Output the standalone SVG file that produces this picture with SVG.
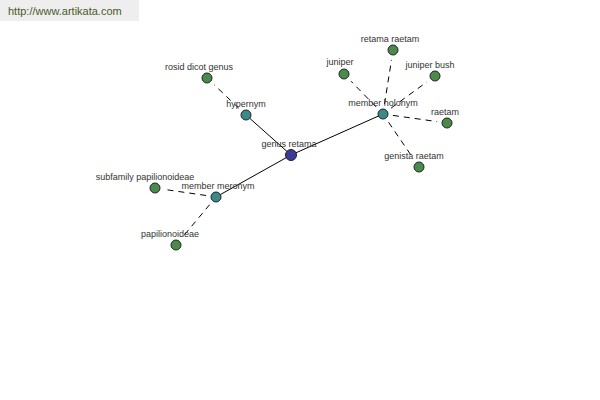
<svg xmlns="http://www.w3.org/2000/svg" width="600" height="400" viewBox="0 0 600 400">
<style>
text{font-family:"Liberation Sans",Arial,sans-serif;font-size:9px;fill:#333;text-anchor:middle}
.n{stroke:#222;stroke-width:1}
.g{fill:#4a8a4a}
.t{fill:#3a8a8a}
.b{fill:#3c3c94}
.s{stroke:#000;stroke-width:1;fill:none}
.d{stroke:#000;stroke-width:1;fill:none;stroke-dasharray:6,5}
</style>
<rect x="0" y="0" width="139" height="21" fill="#eeeeee"/>
<text x="8" y="15" style="text-anchor:start;font-size:11px;fill:#4a5a2a">http://www.artikata.com</text>
<g id="edges">
<line class="s" x1="291" y1="155" x2="246" y2="115"/>
<line class="s" x1="291" y1="155" x2="383" y2="114"/>
<line class="s" x1="291" y1="155" x2="216" y2="197"/>
<line class="d" x1="238.7" y1="108.1" x2="214.3" y2="84.9"/>
<line class="d" x1="384.5" y1="104.1" x2="391.5" y2="59.9"/>
<line class="d" x1="376" y1="106.8" x2="351" y2="81.2"/>
<line class="d" x1="391.1" y1="108.1" x2="426.9" y2="81.9"/>
<line class="d" x1="392.9" y1="115.4" x2="437.1" y2="121.6"/>
<line class="d" x1="388.6" y1="122.3" x2="413.4" y2="158.7"/>
<line class="d" x1="206.1" y1="195.5" x2="164.9" y2="189.5"/>
<line class="d" x1="209.6" y1="204.7" x2="182.4" y2="237.3"/>
</g>
<g id="genus-retama"><circle class="n b" cx="291" cy="155" r="5.5"/><text x="289" y="147">genus retama</text></g>
<g id="hypernym"><circle class="n t" cx="246" cy="115" r="5"/><text x="246" y="107">hypernym</text></g>
<g id="rosid-dicot-genus"><circle class="n g" cx="207" cy="78" r="5"/><text x="199" y="70">rosid dicot genus</text></g>
<g id="member-holonym"><circle class="n t" cx="383" cy="114" r="5"/><text x="383" y="106">member holonym</text></g>
<g id="retama-raetam"><circle class="n g" cx="393" cy="50" r="5"/><text x="390" y="42">retama raetam</text></g>
<g id="juniper"><circle class="n g" cx="344" cy="74" r="5"/><text x="340" y="65">juniper</text></g>
<g id="juniper-bush"><circle class="n g" cx="435" cy="76" r="5"/><text x="430" y="68">juniper bush</text></g>
<g id="raetam"><circle class="n g" cx="447" cy="123" r="5"/><text x="445" y="115">raetam</text></g>
<g id="genista-raetam"><circle class="n g" cx="419" cy="167" r="5"/><text x="414" y="159">genista raetam</text></g>
<g id="member-meronym"><circle class="n t" cx="216" cy="197" r="5"/><text x="218" y="189">member meronym</text></g>
<g id="subfamily-papilionoideae"><circle class="n g" cx="155" cy="188" r="5"/><text x="145" y="180">subfamily papilionoideae</text></g>
<g id="papilionoideae"><circle class="n g" cx="176" cy="245" r="5"/><text x="170" y="237">papilionoideae</text></g>
</svg>
